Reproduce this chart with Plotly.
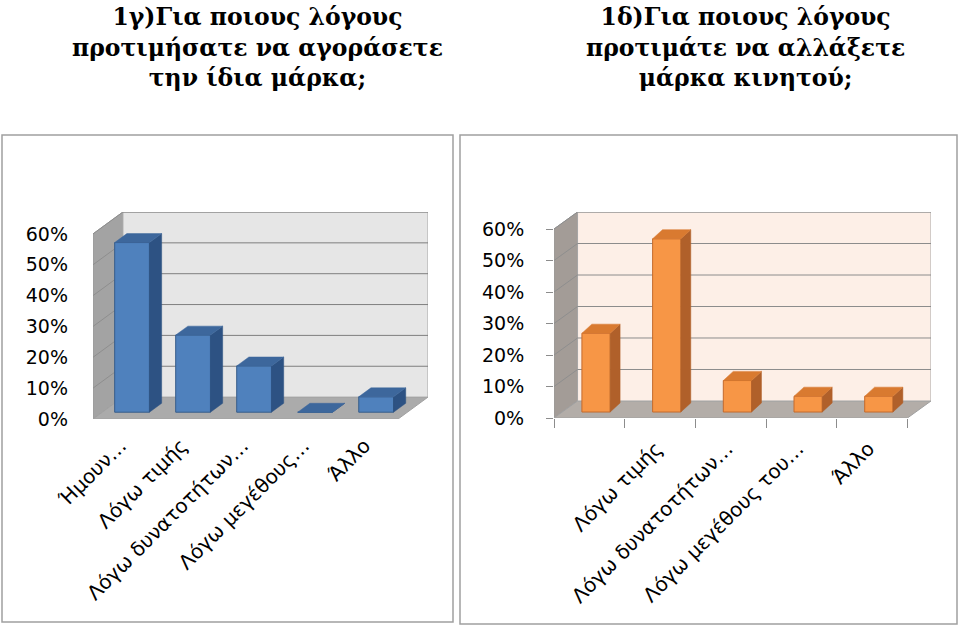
import plotly.graph_objects as go

W, H = 960, 628

# ---------------- data ----------------
left_labels = ["Ήμουν…", "Λόγω τιμής", "Λόγω δυνατοτήτων…", "Λόγω μεγέθους…", "Άλλο"]
left_values = [55, 25, 15, 0, 5]

right_labels = ["", "Λόγω τιμής", "Λόγω δυνατοτήτων…", "Λόγω μεγέθους του…", "Άλλο"]
right_values = [25, 55, 10, 5, 5]

y_ticks = [0, 10, 20, 30, 40, 50, 60]
y_tick_text = [f"{v}%" for v in y_ticks]

left_title = ["1γ)Για ποιους λόγους", "προτιμήσατε να αγοράσετε", "την ίδια μάρκα;"]
right_title = ["1δ)Για ποιους λόγους", "προτιμάτε να αλλάξετε", "μάρκα κινητού;"]

# ---------------- styles / geometry ----------------
LEFT = dict(xa="x", ya="y", dx=0.49, dy=7.1, w=0.57, fx=0.14, fy=2.2, bdx=0.2, bdy=2.9,
            front="#4F81BD", top="#3D679C", side="#2D5283", edge="#385D8A",
            wall="#E6E6E6", side_wall="#A3A3A3", floor="#ABABAB", grid="#7F7F7F")
RIGHT = dict(xa="x2", ya="y2", dx=0.333, dy=5.4, w=0.40, fx=0.095, fy=1.9, bdx=0.14, bdy=2.9,
             front="#F79646", top="#D97A30", side="#B0602A", edge="#C46A2C",
             wall="#FDEFE7", side_wall="#A39C97", floor="#B3ADA8", grid="#8C8C8C")
LABEL_SHIFT = -0.05

fig = go.Figure()
shapes = []


def poly_path(xs, ys):
    pts = [f"{x},{y}" for x, y in zip(xs, ys)]
    return "M " + " L ".join(pts) + " Z"


def add_chart(values, s):
    n = len(values)
    dx, dy = s["dx"], s["dy"]
    top = y_ticks[-1]
    x0, x1 = -0.5, n - 0.5
    xref, yref = s["xa"], s["ya"]
    # side wall
    shapes.append(dict(type="path", xref=xref, yref=yref, layer="below",
                       path=poly_path([x0, x0, x0 + dx, x0 + dx], [0, top, top + dy, dy]),
                       fillcolor=s["side_wall"], line=dict(color="#9A9A9A", width=1)))
    # floor
    shapes.append(dict(type="path", xref=xref, yref=yref, layer="below",
                       path=poly_path([x0, x1, x1 + dx, x0 + dx], [0, 0, dy, dy]),
                       fillcolor=s["floor"], line=dict(color="#A0A0A0", width=1)))
    # back wall
    shapes.append(dict(type="path", xref=xref, yref=yref, layer="below",
                       path=poly_path([x0 + dx, x1 + dx, x1 + dx, x0 + dx], [dy, dy, top + dy, top + dy]),
                       fillcolor=s["wall"], line=dict(color="#A6A6A6", width=1)))
    # gridlines on back wall and side wall
    for v in y_ticks[1:]:
        shapes.append(dict(type="line", xref=xref, yref=yref, layer="below",
                           x0=x0 + dx, x1=x1 + dx, y0=v + dy, y1=v + dy,
                           line=dict(color=s["grid"], width=1)))
        shapes.append(dict(type="line", xref=xref, yref=yref, layer="below",
                           x0=x0, x1=x0 + dx, y0=v, y1=v + dy,
                           line=dict(color="#8E8E8E", width=1)))

    xs_center = [i + s["fx"] for i in range(n)]
    # front faces
    fig.add_trace(go.Bar(x=xs_center, y=values, base=s["fy"], width=s["w"],
                         marker=dict(color=s["front"], line=dict(color=s["edge"], width=1)),
                         xaxis=xref, yaxis=yref, showlegend=False, hoverinfo="skip"))
    # side and top faces
    sx, sy, tx, ty = [], [], [], []
    for c, v in zip(xs_center, values):
        l, r = c - s["w"] / 2, c + s["w"] / 2
        b, t = s["fy"], s["fy"] + v
        sx += [r, r, r + s["bdx"], r + s["bdx"], r, None]
        sy += [b, t, t + s["bdy"], b + s["bdy"], b, None]
        tx += [l, r, r + s["bdx"], l + s["bdx"], l, None]
        ty += [t, t, t + s["bdy"], t + s["bdy"], t, None]
    fig.add_trace(go.Scatter(x=sx, y=sy, mode="lines", fill="toself", fillcolor=s["side"],
                             line=dict(color=s["side"], width=0.5), xaxis=xref, yaxis=yref,
                             showlegend=False, hoverinfo="skip"))
    fig.add_trace(go.Scatter(x=tx, y=ty, mode="lines", fill="toself", fillcolor=s["top"],
                             line=dict(color=s["top"], width=0.5), xaxis=xref, yaxis=yref,
                             showlegend=False, hoverinfo="skip"))


add_chart(left_values, LEFT)
add_chart(right_values, RIGHT)

# invisible trace for the boundary-tick overlay axis
fig.add_trace(go.Scatter(x=[0], y=[0], mode="markers", marker=dict(opacity=0),
                         xaxis="x3", yaxis="y2", showlegend=False, hoverinfo="skip"))

# chart frames
shapes.append(dict(type="rect", xref="paper", yref="paper", x0=2 / W, x1=453 / W,
                   y0=1 - 622 / H, y1=1 - 135 / H, line=dict(color="#A0A0A0", width=1.5)))
shapes.append(dict(type="rect", xref="paper", yref="paper", x0=460 / W, x1=957 / W,
                   y0=1 - 624 / H, y1=1 - 135 / H, line=dict(color="#A0A0A0", width=1.5)))

# titles
annotations = []
for lines, cx in ((left_title, 257), (right_title, 745)):
    annotations.append(dict(text="<b>" + "<br>".join(lines) + "</b>", x=cx / W, y=1 - 1 / H,
                            xref="paper", yref="paper", xanchor="center", yanchor="top",
                            showarrow=False, align="center",
                            font=dict(family="DejaVu Serif", size=23.5, color="black")))

tick_font = dict(family="DejaVu Sans", size=19, color="black")
cat_font = dict(family="DejaVu Sans", size=20, color="black")

fig.update_layout(
    template="none",
    width=W, height=H,
    margin=dict(l=0, r=0, t=0, b=0, autoexpand=False),
    paper_bgcolor="white", plot_bgcolor="rgba(0,0,0,0)",
    shapes=shapes, annotations=annotations,
    xaxis=dict(domain=[93 / W, 428 / W], range=[-0.5, 4.5 + LEFT["dx"]], anchor="y",
               tickvals=[i + LABEL_SHIFT for i in range(5)], ticktext=left_labels,
               tickangle=-45, automargin=False, ticklabelstandoff=10,
               showgrid=False, zeroline=False, showline=False, ticks="", tickfont=cat_font),
    yaxis=dict(domain=[1 - 419 / H, 1 - 212 / H], range=[0, 60 + LEFT["dy"]], anchor="x",
               tickvals=y_ticks, ticktext=y_tick_text, showgrid=False, zeroline=False,
               automargin=False,
               showline=False, ticks="", tickfont=tick_font, ticklabelstandoff=24),
    xaxis2=dict(domain=[554 / W, 931 / W], range=[-0.5, 4.5 + RIGHT["dx"]], anchor="y2",
                tickvals=[i + LABEL_SHIFT for i in range(5)], ticktext=right_labels,
                tickangle=-45, automargin=False, ticklabelstandoff=14,
                showgrid=False, zeroline=False, showline=False, ticks="", tickfont=cat_font),
    yaxis2=dict(domain=[1 - 418 / H, 1 - 212 / H], range=[0, 60 + RIGHT["dy"]], anchor="x2",
                tickvals=y_ticks, ticktext=y_tick_text, showgrid=False, zeroline=False,
                automargin=False,
                showline=False, ticks="outside", ticklen=7, tickcolor="#8C8C8C",
                tickfont=tick_font, ticklabelstandoff=18),
    xaxis3=dict(overlaying="x2", anchor="y2", range=[-0.5, 4.5 + RIGHT["dx"]],
                tickvals=[i - 0.5 for i in range(6)], showticklabels=False, automargin=False,
                ticks="outside", ticklen=9, tickcolor="#8C8C8C",
                showgrid=False, zeroline=False, showline=False),
)

fig.write_html("out.html", config={"displayModeBar": False},
               post_script="document.body.style.margin='0';")
